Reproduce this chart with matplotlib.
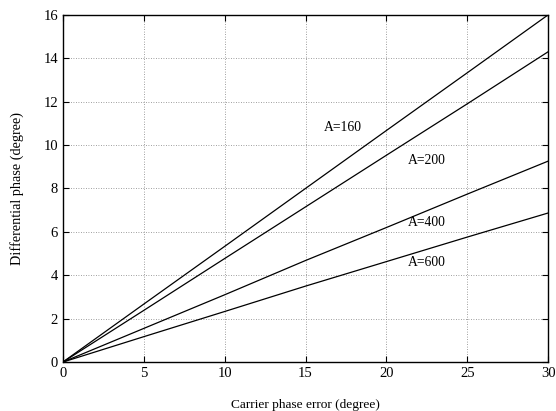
import matplotlib
matplotlib.use("Agg")
import matplotlib.pyplot as plt

x = [0, 5, 10, 15, 20, 25, 30]
a160 = [0, 2.67, 5.33, 8.0, 10.67, 13.33, 16.0]
a200 = [0, 2.38, 4.77, 7.15, 9.53, 11.9, 14.3]
a400 = [0, 1.55, 3.1, 4.68, 6.2, 7.74, 9.26]
a600 = [0, 1.17, 2.33, 3.5, 4.63, 5.76, 6.87]
labels = ["A=160", "A=200", "A=400", "A=600"]
label_pos = [(17.3, 10.8), (22.5, 9.3), (22.5, 6.45), (22.5, 4.6)]

plt.rcParams['font.family'] = ['Liberation Serif', 'DejaVu Serif']
fig = plt.figure(figsize=(5.56, 4.11), dpi=100)
ax = fig.add_axes([0.113, 0.119, 0.873, 0.845])
for s in [a160, a200, a400, a600]:
    ax.plot(x, s, color='black', lw=0.9)
for t, (px, py) in zip(labels, label_pos):
    ax.text(px, py, t, fontsize=9.8, ha='center', va='center')
ax.set_xlim(0, 30)
ax.set_ylim(0, 16)
ax.set_xticks(range(0, 31, 5))
ax.set_yticks(range(0, 17, 2))
ax.grid(True, linestyle=(0, (1, 2)), color='0.5', lw=0.6)
ax.tick_params(direction='in', top=True, right=True, labelsize=10.5, length=4)
for sp in ax.spines.values():
    sp.set_linewidth(1.0)
ax.set_xlabel("Carrier phase error (degree)", fontsize=9.6, labelpad=14)
ax.set_ylabel("Differential phase (degree)", fontsize=10.3, labelpad=14)
fig.savefig("out.png", dpi=100)
